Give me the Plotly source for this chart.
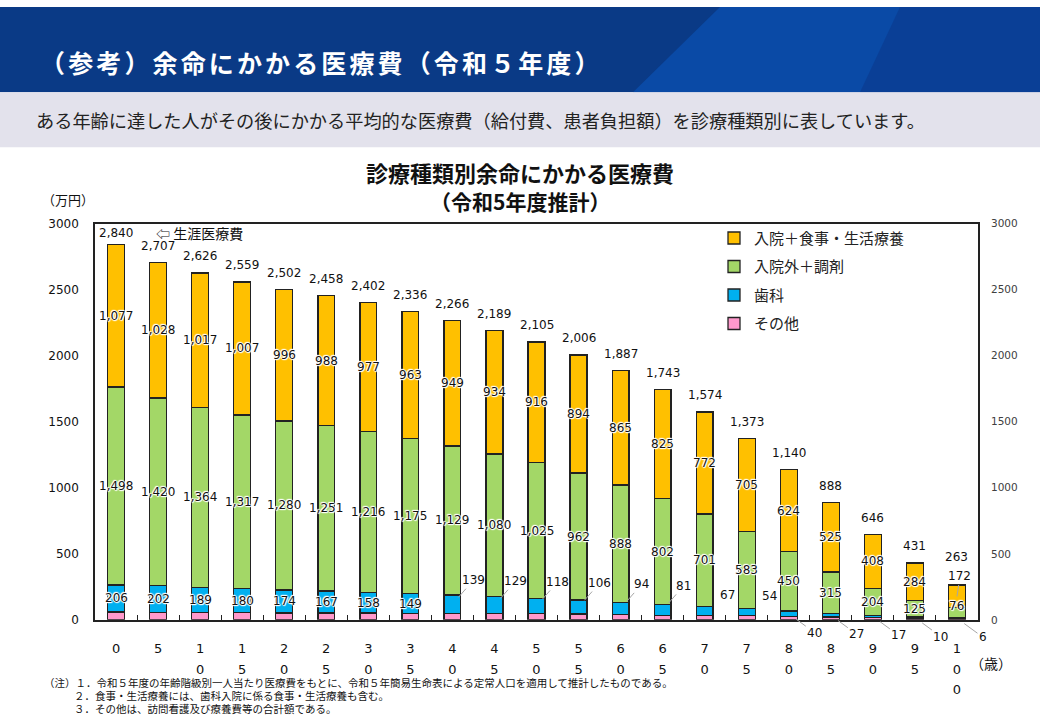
import plotly.graph_objects as go

# ---------------- data ----------------
ages = [0, 5, 10, 15, 20, 25, 30, 35, 40, 45, 50, 55, 60, 65, 70, 75, 80, 85, 90, 95, 100]
total = [2840, 2707, 2626, 2559, 2502, 2458, 2402, 2336, 2266, 2189, 2105, 2006, 1887, 1743,
         1574, 1373, 1140, 888, 646, 431, 263]
inpatient = [1077, 1028, 1017, 1007, 996, 988, 977, 963, 949, 934, 916, 894, 865, 825,
             772, 705, 624, 525, 408, 284, 172]
outpatient = [1498, 1420, 1364, 1317, 1280, 1251, 1216, 1175, 1129, 1080, 1025, 962, 888, 802,
              701, 583, 450, 315, 204, 125, 76]
dental = [206, 202, 189, 180, 174, 167, 158, 149, 139, 129, 118, 106, 94, 81,
          67, 54, 40, 27, 17, 10, 6]
other = [59, 57, 56, 55, 52, 52, 51, 49, 49, 46, 46, 44, 40, 35, 34, 31, 26, 21, 17, 12, 9]

series_names = ["入院＋食事・生活療養", "入院外＋調剤", "歯科", "その他"]
y_ticks = [0, 500, 1000, 1500, 2000, 2500, 3000]

header_title = "（参考）余命にかかる医療費（令和５年度）"
header_sub = "ある年齢に達した人がその後にかかる平均的な医療費（給付費、患者負担額）を診療種類別に表しています。"
chart_title = ["診療種類別余命にかかる医療費", "（令和5年度推計）"]
notes = ["（注）１．令和５年度の年齢階級別一人当たり医療費をもとに、令和５年簡易生命表による定常人口を適用して推計したものである。",
         "２．食事・生活療養には、歯科入院に係る食事・生活療養も含む。",
         "３．その他は、訪問看護及び療養費等の合計額である。"]

# ---------------- styling ----------------
W, H = 1040, 720
JP = "Noto Sans CJK JP"
NUM = "DejaVu Sans"
colors = {"入院＋食事・生活療養": "#FFC000", "入院外＋調剤": "#A3D767",
          "歯科": "#00B0F0", "その他": "#FF99CC"}
halo = "1px 0px 1px #fff, -1px 0px 1px #fff, 0px 1px 1px #fff, 0px -1px 1px #fff, 1px 1px 1px #fff, -1px -1px 1px #fff"

def X(px):
    return px / W

def Y(py):
    return 1 - py / H

plot_left, plot_right, plot_top, plot_bottom = 95, 978, 221, 625
px_per_unit = (plot_bottom - plot_top) / 3000

cats = [f"{a}歳" for a in ages]
ticktext = ["<br>".join(f"<span style='font-size:13px'>{d}</span>" for d in str(a)) for a in ages]

fig = go.Figure()
stack_order = [("その他", other), ("歯科", dental), ("入院外＋調剤", outpatient), ("入院＋食事・生活療養", inpatient)]
rank = {n: i for i, n in enumerate(series_names)}
for name, vals in stack_order:
    fig.add_trace(go.Bar(
        x=cats, y=vals, name=name, width=0.4,
        marker=dict(color=colors[name], line=dict(color="#222222", width=1.3)),
        legendrank=rank[name] + 1, legendgroup=name, hoverinfo="skip"))

# invisible helper so the right-hand value axis is drawn
fig.add_trace(go.Scatter(x=[cats[0]], y=[y_ticks[0]], yaxis="y2", mode="markers",
                         marker=dict(opacity=0), showlegend=False, hoverinfo="skip"))

numfont = dict(family=NUM, size=12, color="#111111")
halofont = dict(family=NUM, size=12, color="#111111", shadow=halo)
ann = []
n = len(cats)
for i in range(n):
    lifted = (i == n - 1)  # inpatient label pushed above the short last bar
    gap = 29 if lifted else 17
    ty = min(total[i] + gap / px_per_unit, 2930)
    ann.append(dict(x=i, y=ty, text=f"{total[i]:,}", showarrow=False, font=numfont,
                    xref="x", yref="y"))
    in_mid = other[i] + dental[i] + outpatient[i] + inpatient[i] / 2
    if lifted:
        ann.append(dict(x=i, y=in_mid, text=f"{inpatient[i]:,}", showarrow=True, arrowhead=0,
                        arrowwidth=1, arrowcolor="#A6A6A6", ax=3, ay=-20, standoff=0,
                        font=halofont, xref="x", yref="y"))
    else:
        ann.append(dict(x=i, y=in_mid, text=f"{inpatient[i]:,}", showarrow=False, font=halofont,
                        xref="x", yref="y"))
    out_mid = other[i] + dental[i] + outpatient[i] / 2
    ann.append(dict(x=i, y=out_mid, text=f"{outpatient[i]:,}", showarrow=False, font=halofont,
                    xref="x", yref="y", yshift=7 if i == n - 1 else 0))
    d_mid = other[i] + dental[i] / 2
    if ages[i] < 40:
        ann.append(dict(x=i, y=d_mid, text=f"{dental[i]:,}", showarrow=False, font=halofont,
                        xref="x", yref="y"))
    elif ages[i] < 70:
        ann.append(dict(x=i, y=d_mid, text=f"{dental[i]:,}", showarrow=True, arrowhead=0,
                        arrowwidth=1, arrowcolor="#A6A6A6", ax=21, ay=-24, standoff=9,
                        font=numfont, xref="x", yref="y"))
    elif ages[i] < 80:
        ann.append(dict(x=i, y=d_mid, text=f"{dental[i]:,}", showarrow=False, font=numfont,
                        xref="x", yref="y", xshift=23, yshift=16))
    else:
        ann.append(dict(x=i, y=d_mid, text=f"{dental[i]:,}", showarrow=True, arrowhead=0,
                        arrowwidth=1, arrowcolor="#A6A6A6", ax=26, ay=19, standoff=9,
                        font=numfont, xref="x", yref="y"))

paper = dict(xref="paper", yref="paper", showarrow=False)
spaced_title = "\u200a\u200a".join(header_title)
ann += [
    dict(x=X(38), y=Y(56), text=spaced_title, xanchor="left", yanchor="middle",
         font=dict(family=JP, size=25, color="white", weight="bold"), **paper),
    dict(x=X(34), y=Y(115), text=header_sub, xanchor="left", yanchor="middle",
         font=dict(family=JP, size=18.2, color="#222222"), **paper),
    dict(x=X(520), y=Y(168), text=chart_title[0], xanchor="center", yanchor="middle",
         font=dict(family=JP, size=22, color="#111111", weight="bold"), **paper),
    dict(x=X(520), y=Y(198), text=chart_title[1], xanchor="center", yanchor="middle",
         font=dict(family=JP, size=21, color="#111111", weight="bold"), **paper),
    dict(x=X(40), y=Y(196), text="（万円）", xanchor="left", yanchor="middle",
         font=dict(family=JP, size=13, color="#111111"), **paper),
    dict(x=X(968), y=Y(669), text="（歳）", xanchor="left", yanchor="middle",
         font=dict(family=JP, size=14, color="#111111"), **paper),
    dict(x=X(154), y=Y(230), text="⇦ 生涯医療費", xanchor="left", yanchor="middle",
         font=dict(family=JP, size=14, color="#111111"), **paper),
    dict(x=X(42), y=Y(689), text=notes[0], xanchor="left", yanchor="middle",
         font=dict(family=JP, size=10.5, color="#111111"), **paper),
    dict(x=X(72), y=Y(702), text=notes[1], xanchor="left", yanchor="middle",
         font=dict(family=JP, size=10.5, color="#111111"), **paper),
    dict(x=X(72), y=Y(715), text=notes[2], xanchor="left", yanchor="middle",
         font=dict(family=JP, size=10.5, color="#111111"), **paper),
]

shapes = [
    dict(type="rect", xref="paper", yref="paper", x0=0, x1=1, y0=Y(87), y1=1,
         fillcolor="#0A3A86", line=dict(width=0), layer="below"),
    dict(type="path", xref="paper", yref="paper",
         path=f"M {X(720)} {Y(0)} L 1 {Y(0)} L 1 {Y(87)} L {X(633)} {Y(87)} Z",
         fillcolor="#0A4AA6", line=dict(width=0), layer="below"),
    dict(type="path", xref="paper", yref="paper",
         path=f"M {X(900)} {Y(0)} L 1 {Y(0)} L 1 {Y(87)} L {X(860)} {Y(87)} Z",
         fillcolor="rgba(10,50,130,0.45)", line=dict(width=0), layer="below"),
    dict(type="rect", xref="paper", yref="paper", x0=0, x1=1, y0=Y(143), y1=Y(87),
         fillcolor="#E3E2EC", line=dict(width=0), layer="below"),
]

fig.update_layout(
    width=W, height=H, margin=dict(l=0, r=0, t=0, b=0),
    paper_bgcolor="white", plot_bgcolor="white",
    barmode="stack", annotations=ann, shapes=shapes,
    legend=dict(x=X(714), y=Y(219), xanchor="left", yanchor="top",
                bgcolor="rgba(0,0,0,0)", traceorder="grouped", tracegroupgap=6,
                font=dict(family=JP, size=15, color="#222222")),
    xaxis=dict(domain=[X(plot_left), X(plot_right)], type="category",
               categoryorder="array", categoryarray=cats, range=[-0.5, n - 0.5],
               tickmode="array", tickvals=cats, ticktext=ticktext,
               tickfont=dict(family=NUM, size=16, color="#111111"),
               ticks="inside", tickson="boundaries", ticklen=5, tickcolor="#222222",
               showline=True, linecolor="#222222", linewidth=1.5, mirror=True,
               showgrid=False, ticklabelstandoff=12, fixedrange=True),
    yaxis=dict(domain=[Y(plot_bottom), Y(plot_top)], range=[0, 3000],
               tickmode="array", tickvals=y_ticks, ticktext=[str(v) for v in y_ticks],
               tickfont=dict(family=NUM, size=12, color="#111111"),
               showline=True, linecolor="#222222", linewidth=1.5, mirror=True,
               showgrid=False, zeroline=False, ticks="", ticklabelstandoff=12),
    yaxis2=dict(overlaying="y", side="right", range=[0, 3000], anchor="x",
                tickmode="array", tickvals=y_ticks, ticktext=[str(v) for v in y_ticks],
                tickfont=dict(family=NUM, size=10.5, color="#404040"),
                showline=False, showgrid=False, zeroline=False, ticks="",
                ticklabelstandoff=12),
)

fig.write_html("out.html")
